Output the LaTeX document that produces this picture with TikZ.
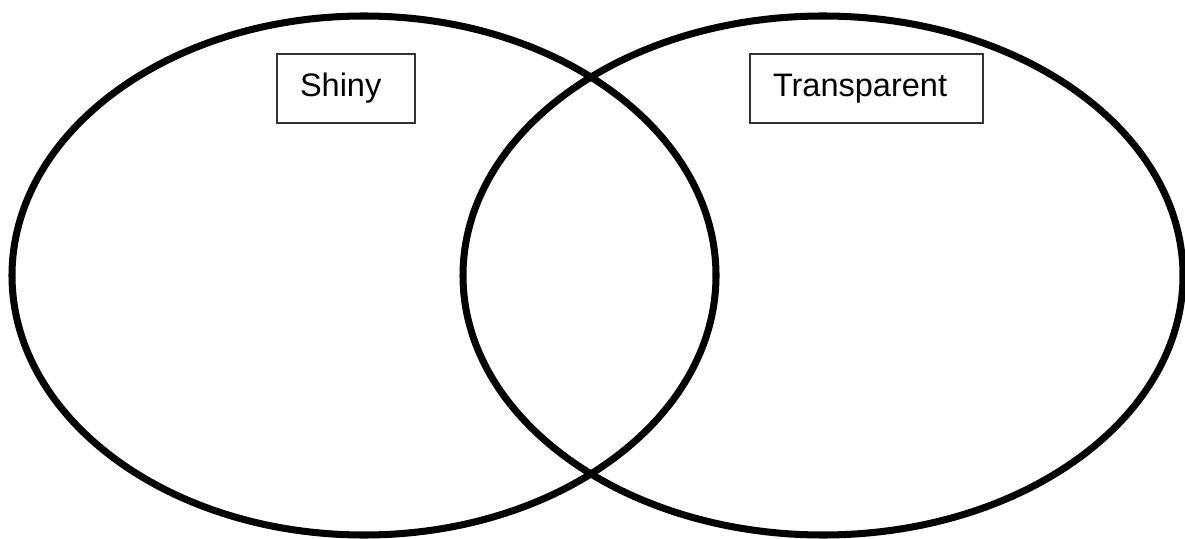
\documentclass[tikz,border=0pt]{standalone}
\usepackage{fontspec}
\setmainfont{Liberation Sans}

\begin{document}
\begin{tikzpicture}[
        every node/.style={font=\fontsize{18.5}{21}\selectfont},
        setline/.style={line width=4pt},
        labelbox/.style={draw=black!80,line width=0.6pt,align=left,
            inner xsep=0.46cm,minimum height=1.38cm}
    ]

    \useasboundingbox (0,0) rectangle (23.7,10.76);

    % Two sets
    \draw[setline] (7.28,5.25) ellipse [x radius=7.04,y radius=5.19];
    \draw[setline] (16.46,5.25) ellipse [x radius=7.2,y radius=5.19];

    % Set labels
    \node[labelbox,text width=1.84cm] (shiny) at (6.92,8.99) {Shiny};
    \node[labelbox,text width=3.74cm] (transparent) at (17.33,8.99)
        {Transparent};

\end{tikzpicture}
\end{document}
